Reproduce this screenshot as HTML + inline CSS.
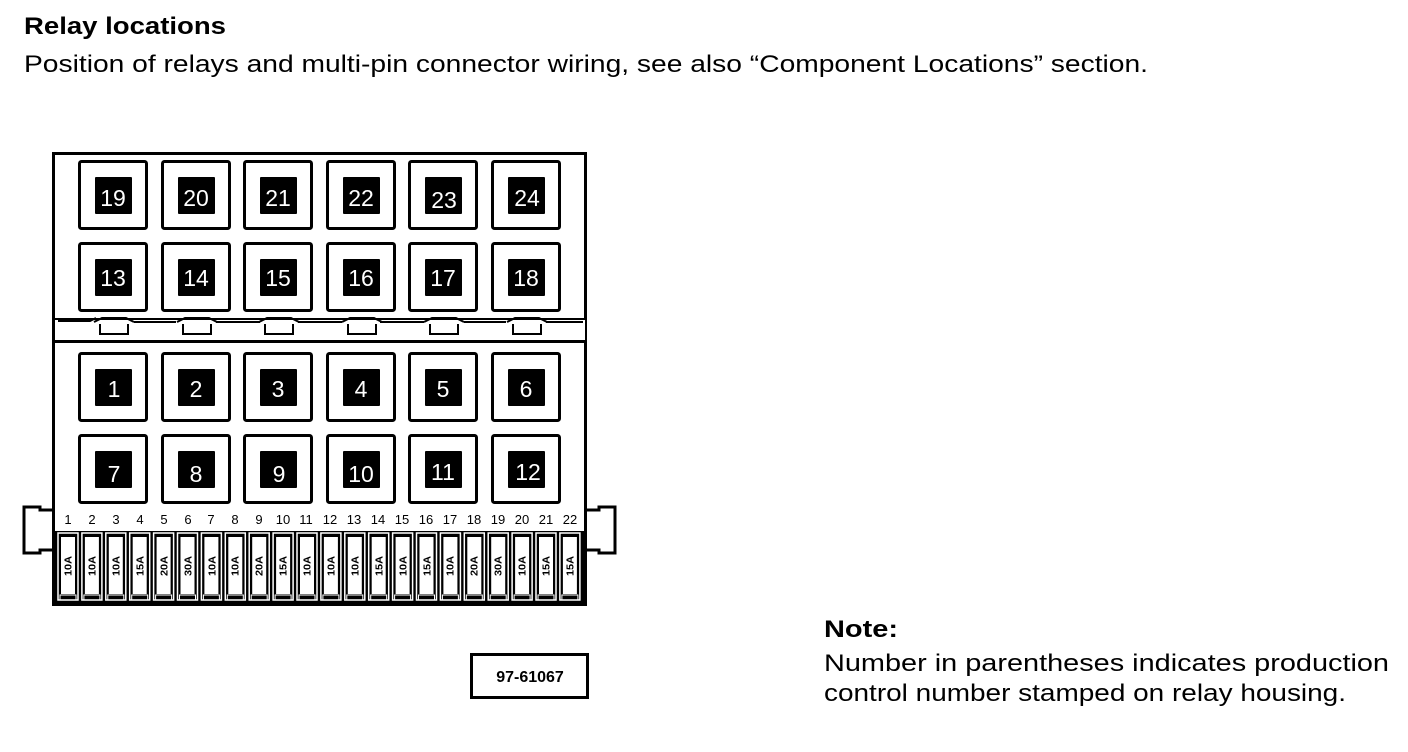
<!DOCTYPE html>
<html><head><meta charset="utf-8"><style>
html,body{margin:0;padding:0;background:#fff;}
svg{display:block;}
text{font-family:"Liberation Sans",sans-serif;}
</style></head><body>
<svg width="1408" height="752" viewBox="0 0 1408 752" xmlns="http://www.w3.org/2000/svg">
<defs>
<g id="relay"><rect x="1.5" y="1.5" width="67" height="67" rx="2" fill="#fff" stroke="#000" stroke-width="3"/><rect x="17" y="17" width="37" height="37" rx="1" fill="#000"/></g>
<g id="fuse"><rect x="2" y="533" width="20" height="67" fill="none" stroke="#fff" stroke-width="1.5"/><rect x="5" y="537" width="14" height="57" fill="#fff"/><rect x="4" y="595" width="16" height="5" fill="none" stroke="#fff" stroke-width="1"/></g>
<g id="clip"><path d="M-20 4 L-12 0 L12 0 L20 4 M-14 6 L-14 16 L14 16 L14 6" fill="none" stroke="#000" stroke-width="2"/></g>
</defs>
<text x="24" y="34" font-size="24" font-weight="bold" textLength="202" lengthAdjust="spacingAndGlyphs">Relay locations</text>
<text x="24" y="72" font-size="24" textLength="1124" lengthAdjust="spacingAndGlyphs">Position of relays and multi-pin connector wiring, see also “Component Locations” section.</text>

<path d="M53 510 L40 510 L40 507 L24 507 L24 553 L40 553 L40 550 L53 550" fill="none" stroke="#000" stroke-width="3"/>
<path d="M586 510 L599 510 L599 507 L615 507 L615 553 L599 553 L599 550 L586 550" fill="none" stroke="#000" stroke-width="3"/>
<rect x="53.5" y="153.5" width="532" height="451" fill="#fff" stroke="#000" stroke-width="3"/>

<use href="#relay" x="78" y="160"/><use href="#relay" x="161" y="160"/><use href="#relay" x="243" y="160"/><use href="#relay" x="326" y="160"/><use href="#relay" x="408" y="160"/><use href="#relay" x="491" y="160"/>
<use href="#relay" x="78" y="242"/><use href="#relay" x="161" y="242"/><use href="#relay" x="243" y="242"/><use href="#relay" x="326" y="242"/><use href="#relay" x="408" y="242"/><use href="#relay" x="491" y="242"/>
<use href="#relay" x="78" y="352"/><use href="#relay" x="161" y="352"/><use href="#relay" x="243" y="352"/><use href="#relay" x="326" y="352"/><use href="#relay" x="408" y="352"/><use href="#relay" x="491" y="352"/>
<use href="#relay" x="78" y="434"/><use href="#relay" x="161" y="434"/><use href="#relay" x="243" y="434"/><use href="#relay" x="326" y="434"/><use href="#relay" x="408" y="434"/><use href="#relay" x="491" y="434"/>
<g fill="#fff" font-size="23" text-anchor="middle">
<text x="113" y="206">19</text><text x="196" y="206">20</text><text x="278" y="206">21</text><text x="361" y="206">22</text><text x="444" y="208">23</text><text x="527" y="206">24</text>
<text x="113" y="286">13</text><text x="196" y="286">14</text><text x="278" y="286">15</text><text x="361" y="286">16</text><text x="443" y="286">17</text><text x="526" y="286">18</text>
<text x="114" y="397">1</text><text x="196" y="397">2</text><text x="278" y="397">3</text><text x="361" y="397">4</text><text x="443" y="397">5</text><text x="526" y="397">6</text>
<text x="114" y="482">7</text><text x="196" y="482">8</text><text x="279" y="482">9</text><text x="361" y="482">10</text><text x="443" y="480">11</text><text x="528" y="480">12</text>
</g>

<line x1="55" y1="319" x2="585" y2="319" stroke="#000" stroke-width="2"/>
<line x1="55" y1="341" x2="585" y2="341" stroke="#000" stroke-width="4"/>
<rect x="55" y="320" width="530" height="20" fill="#fff"/>
<g fill="none" stroke="#000" stroke-width="2">
<path d="M58 321 L90 321 L96 318"/>
<use href="#clip" x="114" y="318"/><use href="#clip" x="197" y="318"/><use href="#clip" x="279" y="318"/><use href="#clip" x="362" y="318"/><use href="#clip" x="444" y="318"/><use href="#clip" x="527" y="318"/>
<path d="M134 322 L176 322 M216 322 L260 322 M298 322 L342 322 M380 322 L424 322 M464 322 L506 322 M546 322 L583 322"/>
</g>

<rect x="54" y="531" width="531" height="73" fill="#000"/>
<use href="#fuse" x="56"/><use href="#fuse" x="79.9"/><use href="#fuse" x="103.8"/><use href="#fuse" x="127.7"/><use href="#fuse" x="151.6"/><use href="#fuse" x="175.5"/><use href="#fuse" x="199.4"/><use href="#fuse" x="223.3"/><use href="#fuse" x="247.2"/><use href="#fuse" x="271.1"/><use href="#fuse" x="295"/><use href="#fuse" x="318.9"/><use href="#fuse" x="342.8"/><use href="#fuse" x="366.7"/><use href="#fuse" x="390.6"/><use href="#fuse" x="414.5"/><use href="#fuse" x="438.4"/><use href="#fuse" x="462.3"/><use href="#fuse" x="486.2"/><use href="#fuse" x="510.1"/><use href="#fuse" x="534"/><use href="#fuse" x="557.9"/>
<g font-size="13" text-anchor="middle">
<text x="68" y="524">1</text><text x="92" y="524">2</text><text x="116" y="524">3</text><text x="140" y="524">4</text><text x="164" y="524">5</text><text x="188" y="524">6</text><text x="211" y="524">7</text><text x="235" y="524">8</text><text x="259" y="524">9</text><text x="283" y="524">10</text><text x="306" y="524">11</text><text x="330" y="524">12</text><text x="354" y="524">13</text><text x="378" y="524">14</text><text x="402" y="524">15</text><text x="426" y="524">16</text><text x="450" y="524">17</text><text x="474" y="524">18</text><text x="498" y="524">19</text><text x="522" y="524">20</text><text x="546" y="524">21</text><text x="570" y="524">22</text>
</g>
<g font-size="10" font-weight="bold" text-anchor="middle">
<text transform="translate(71.5,566) rotate(-90)" textLength="20" lengthAdjust="spacingAndGlyphs">10A</text>
<text transform="translate(95.5,566) rotate(-90)" textLength="20" lengthAdjust="spacingAndGlyphs">10A</text>
<text transform="translate(119.5,566) rotate(-90)" textLength="20" lengthAdjust="spacingAndGlyphs">10A</text>
<text transform="translate(143.5,566) rotate(-90)" textLength="20" lengthAdjust="spacingAndGlyphs">15A</text>
<text transform="translate(167.5,566) rotate(-90)" textLength="20" lengthAdjust="spacingAndGlyphs">20A</text>
<text transform="translate(191.5,566) rotate(-90)" textLength="20" lengthAdjust="spacingAndGlyphs">30A</text>
<text transform="translate(215.5,566) rotate(-90)" textLength="20" lengthAdjust="spacingAndGlyphs">10A</text>
<text transform="translate(238.5,566) rotate(-90)" textLength="20" lengthAdjust="spacingAndGlyphs">10A</text>
<text transform="translate(262.5,566) rotate(-90)" textLength="20" lengthAdjust="spacingAndGlyphs">20A</text>
<text transform="translate(286.5,566) rotate(-90)" textLength="20" lengthAdjust="spacingAndGlyphs">15A</text>
<text transform="translate(310.5,566) rotate(-90)" textLength="20" lengthAdjust="spacingAndGlyphs">10A</text>
<text transform="translate(334.5,566) rotate(-90)" textLength="20" lengthAdjust="spacingAndGlyphs">10A</text>
<text transform="translate(358.5,566) rotate(-90)" textLength="20" lengthAdjust="spacingAndGlyphs">10A</text>
<text transform="translate(382.5,566) rotate(-90)" textLength="20" lengthAdjust="spacingAndGlyphs">15A</text>
<text transform="translate(406.5,566) rotate(-90)" textLength="20" lengthAdjust="spacingAndGlyphs">10A</text>
<text transform="translate(430.5,566) rotate(-90)" textLength="20" lengthAdjust="spacingAndGlyphs">15A</text>
<text transform="translate(453.5,566) rotate(-90)" textLength="20" lengthAdjust="spacingAndGlyphs">10A</text>
<text transform="translate(477.5,566) rotate(-90)" textLength="20" lengthAdjust="spacingAndGlyphs">20A</text>
<text transform="translate(501.5,566) rotate(-90)" textLength="20" lengthAdjust="spacingAndGlyphs">30A</text>
<text transform="translate(525.5,566) rotate(-90)" textLength="20" lengthAdjust="spacingAndGlyphs">10A</text>
<text transform="translate(549.5,566) rotate(-90)" textLength="20" lengthAdjust="spacingAndGlyphs">15A</text>
<text transform="translate(573.5,566) rotate(-90)" textLength="20" lengthAdjust="spacingAndGlyphs">15A</text>
</g>

<rect x="471.5" y="654.5" width="116" height="43" fill="#fff" stroke="#000" stroke-width="3"/>
<text x="530" y="682" font-size="16" font-weight="bold" text-anchor="middle">97-61067</text>

<text x="824" y="637" font-size="24" font-weight="bold" textLength="74" lengthAdjust="spacingAndGlyphs">Note:</text>
<text x="824" y="671" font-size="24" textLength="565" lengthAdjust="spacingAndGlyphs">Number in parentheses indicates production</text>
<text x="824" y="701" font-size="24" textLength="522" lengthAdjust="spacingAndGlyphs">control number stamped on relay housing.</text>
</svg>
</body></html>
